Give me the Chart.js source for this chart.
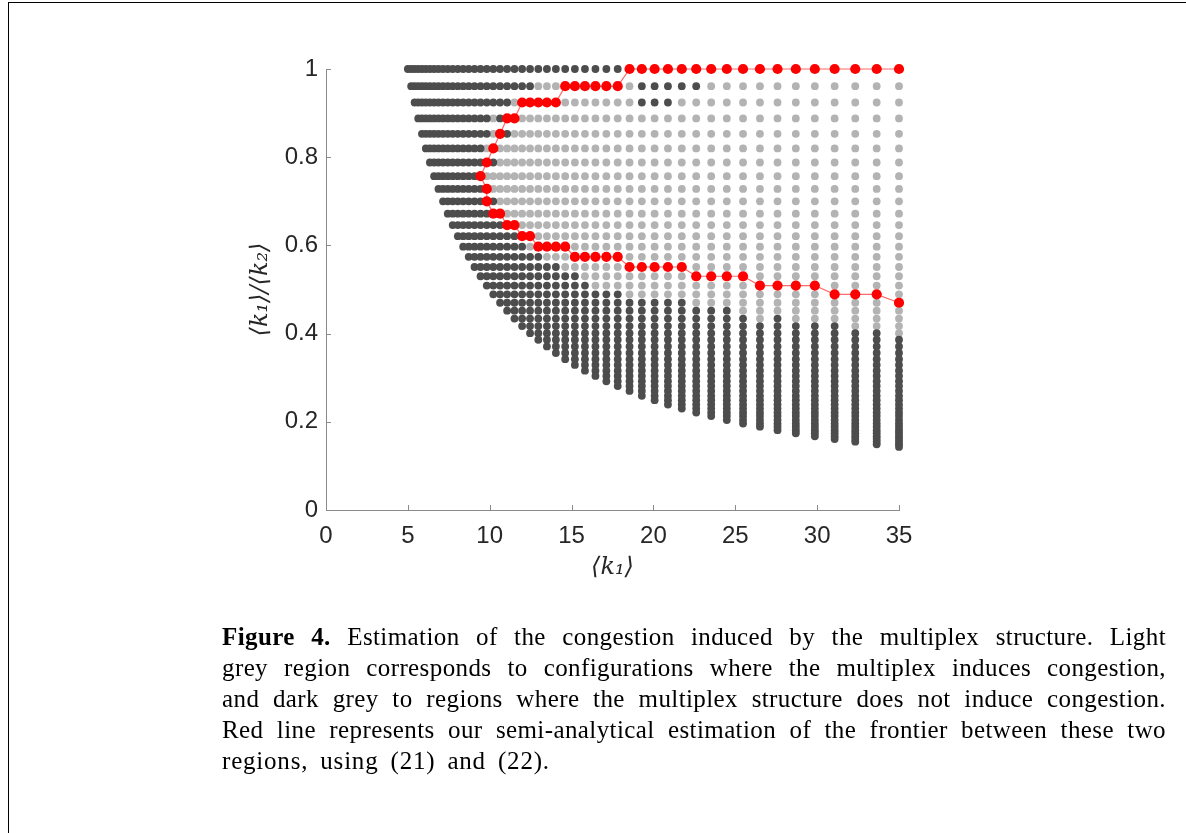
<!DOCTYPE html>
<html>
<head>
<meta charset="utf-8">
<script src="https://cdn.jsdelivr.net/npm/chart.js@4.4.0/dist/chart.umd.min.js"></script>
<style>
html, body { margin: 0; padding: 0; background: #fff; }
#page { position: relative; width: 1186px; height: 833px; overflow: hidden; }
#frame { position: absolute; left: 8px; top: 2px; width: 1200px; height: 900px; border-left: 1px solid #000; border-top: 1px solid #000; }
#chart { position: absolute; left: 0; top: 0; }
.cap { position: absolute; left: 222px; width: 944px; font-family: 'Liberation Serif', 'Times New Roman', serif;
       font-size: 25px; letter-spacing: 0.4px; line-height: 31px; color: #000; white-space: nowrap;
       text-align: justify; text-align-last: justify; }
.cap.last { text-align: left; text-align-last: left; letter-spacing: 0.8px; word-spacing: 5px; }
</style>
</head>
<body>
<div id="page">
  <div id="frame"></div>
  <canvas id="chart" width="1186" height="833"></canvas>
  <div class="cap" style="top:621px"><b>Figure 4.</b> Estimation of the congestion induced by the multiplex structure. Light</div>
  <div class="cap" style="top:652px">grey region corresponds to configurations where the multiplex induces congestion,</div>
  <div class="cap" style="top:683px">and dark grey to regions where the multiplex structure does not induce congestion.</div>
  <div class="cap" style="top:714px">Red line represents our semi-analytical estimation of the frontier between these two</div>
  <div class="cap last" style="top:745px">regions, using (21) and (22).</div>
</div>
<script>
// columns of the grid (<k1>)
const k1Grid = [5.000, 5.203, 5.413, 5.633, 5.861, 6.098, 6.345, 6.602, 6.870, 7.148,
                7.438, 7.739, 8.053, 8.379, 8.718, 9.072, 9.439, 9.821, 10.219, 10.633,
                11.064, 11.512, 11.979, 12.464, 12.969, 13.494, 14.041, 14.610, 15.202, 15.817,
                16.458, 17.125, 17.819, 18.541, 19.292, 20.073, 20.886, 21.732, 22.613, 23.529,
                24.482, 25.474, 26.506, 27.580, 28.697, 29.859, 31.069, 32.328, 33.637, 35.000];

// rows of the grid (<k1>/<k2>), top row first
const ratioGrid = [1.000, 0.961, 0.924, 0.888, 0.853, 0.820, 0.788, 0.757, 0.728, 0.700,
                   0.672, 0.646, 0.621, 0.597, 0.574, 0.551, 0.530, 0.509, 0.489, 0.470,
                   0.452, 0.434, 0.417, 0.401, 0.386, 0.371, 0.356, 0.342, 0.329, 0.316,
                   0.304, 0.292, 0.281, 0.270, 0.259, 0.249, 0.239, 0.230, 0.221, 0.213,
                   0.204, 0.196, 0.189, 0.181, 0.174, 0.167, 0.161, 0.155, 0.149, 0.143];

// number of dots in each column (counted from the top row down)
const colDots = [1, 2, 3, 4, 5, 6, 7, 8, 9, 10, 11, 12, 13, 14, 15, 16, 17, 18, 19, 20,
                 21, 22, 23, 24, 25, 26, 27, 28, 29, 30, 31, 32, 33, 34, 35, 36, 37, 38, 39, 40,
                 41, 42, 43, 44, 45, 46, 47, 48, 49, 50];

// light grey (congestion) column ranges for each row, rows not listed are all dark
const lightRanges = [
  [],                         // row 0
  [[24, 33], [39, 49]],
  [[21, 33], [37, 49]],
  [[18, 18], [20, 49]],
  [[18, 19], [21, 49]],
  [[17, 49]],                 // row 5
  [[17, 17], [19, 49]],
  [[16, 49]],
  [[17, 49]],
  [[17, 17], [19, 49]],
  [[18, 49]],                 // row 10
  [[20, 49]],
  [[22, 49]],
  [[23, 49]],
  [[25, 49]],
  [[27, 49]],                 // row 15
  [[29, 49]],
  [[30, 49]],
  [[33, 49]],
  [[38, 49]],
  [[41, 49]],                 // row 20
  [[42, 42], [44, 49]],
  [[47, 49]],
  [[49, 49]]
];

// red frontier, as (column, row) grid indices in drawing order
const frontierCols = [49, 48, 47, 46, 45, 44, 43, 42, 41, 40, 39, 38, 37, 36, 35, 34, 33,
                      32, 31, 30, 29, 28, 27, 26, 25, 24, 23, 22, 21, 20, 19, 18, 17, 16,
                      17, 17, 18, 19, 20, 21, 22, 23, 24, 25, 26, 27, 28, 29, 30, 31, 32,
                      33, 34, 35, 36, 37, 38, 39, 40, 41, 42, 43, 44, 45, 46, 47, 48, 49];
const frontierRows = [0, 0, 0, 0, 0, 0, 0, 0, 0, 0, 0, 0, 0, 0, 0, 0, 0,
                      1, 1, 1, 1, 1, 1, 2, 2, 2, 2, 2, 3, 3, 4, 5, 6, 7,
                      8, 9, 10, 10, 11, 11, 12, 12, 13, 13, 13, 13, 14, 14, 14, 14, 14,
                      15, 15, 15, 15, 15, 16, 16, 16, 16, 17, 17, 17, 17, 18, 18, 18, 19];

const xTicks = [0, 5, 10, 15, 20, 25, 30, 35];
const yTicks = [0, 0.2, 0.4, 0.6, 0.8, 1];

// split the grid into the two grey sets
const darkPts = [], lightPts = [];
for (let i = 0; i < k1Grid.length; i++) {
  for (let m = 0; m < colDots[i]; m++) {
    const ranges = lightRanges[m] || [];
    const isLight = ranges.some(r => i >= r[0] && i <= r[1]);
    (isLight ? lightPts : darkPts).push({ x: k1Grid[i], y: ratioGrid[m] });
  }
}
const frontierPts = frontierCols.map((c, j) => ({ x: k1Grid[c], y: ratioGrid[frontierRows[j]] }));

const axisGrey = '#8a8a8a';
const inwardTicks = {
  id: 'inwardTicks',
  beforeDatasetsDraw(chart) {
    const { ctx, chartArea: a, scales: { x, y } } = chart;
    ctx.save();
    ctx.strokeStyle = axisGrey;
    ctx.lineWidth = 1;
    xTicks.forEach(v => {
      const px = Math.round(x.getPixelForValue(v)) + 0.5;
      ctx.beginPath(); ctx.moveTo(px, a.bottom); ctx.lineTo(px, a.bottom - 5); ctx.stroke();
    });
    yTicks.forEach(v => {
      const py = Math.round(y.getPixelForValue(v)) + 0.5;
      ctx.beginPath(); ctx.moveTo(a.left, py); ctx.lineTo(a.left + 5, py); ctx.stroke();
    });
    ctx.restore();
  }
};

const tickFont = { family: "'Liberation Sans', Arial, sans-serif", size: 24 };
const titleFont = { family: "'DejaVu Serif', serif", size: 24, style: 'italic' };

new Chart(document.getElementById('chart').getContext('2d'), {
  type: 'scatter',
  data: {
    datasets: [
      { label: 'frontier', data: frontierPts, showLine: true, borderColor: 'rgba(255,40,40,0.7)', borderWidth: 1.2,
        pointRadius: 5.1, pointBackgroundColor: '#ff0000', pointBorderWidth: 0, clip: false },
      { label: 'no congestion', data: darkPts, pointRadius: 3.9, pointBackgroundColor: '#4d4d4d',
        pointBorderWidth: 0, clip: false },
      { label: 'congestion', data: lightPts, pointRadius: 3.9, pointBackgroundColor: '#b3b3b3',
        pointBorderWidth: 0, clip: false }
    ]
  },
  options: {
    responsive: false,
    animation: false,
    events: [],
    layout: { padding: { left: 244, top: 69, right: 287, bottom: 251 } },
    plugins: { legend: { display: false }, tooltip: { enabled: false } },
    scales: {
      x: {
        type: 'linear', min: 0, max: 35,
        afterBuildTicks: s => { s.ticks = xTicks.map(v => ({ value: v })); },
        afterFit: s => { s.height = 72; },
        ticks: { padding: 12, color: '#262626', font: tickFont, maxRotation: 0, callback: v => String(v) },
        grid: { display: false, drawTicks: false },
        border: { color: axisGrey, width: 1 },
        title: { display: true, text: '⟨k₁⟩', color: '#262626', font: titleFont, padding: { top: 0, bottom: 0 } }
      },
      y: {
        type: 'linear', min: 0, max: 1,
        afterBuildTicks: s => { s.ticks = yTicks.map(v => ({ value: v })); },
        afterFit: s => { s.width = 82; },
        ticks: { padding: 8, color: '#262626', font: tickFont, callback: v => String(v) },
        grid: { display: false, drawTicks: false },
        border: { color: axisGrey, width: 1 },
        title: { display: true, text: '⟨k₁⟩/⟨k₂⟩', color: '#262626', font: titleFont, padding: { top: 2, bottom: 0 } }
      }
    }
  },
  plugins: [inwardTicks]
});
</script>
</body>
</html>
